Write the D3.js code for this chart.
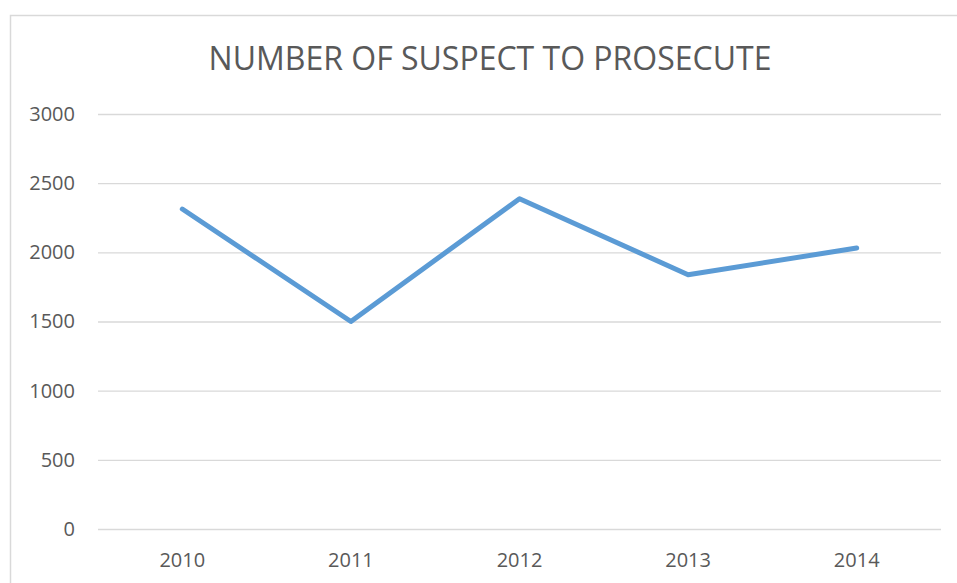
<!DOCTYPE html>
<html>
<head>
<meta charset="utf-8">
<script src="https://cdn.jsdelivr.net/npm/d3@7"></script>
<style>
  body { margin: 0; background: #fff; }
  text { font-family: "Open Sans", "Liberation Sans", sans-serif; fill: #595959; }
</style>
</head>
<body>
<div id="chart"></div>
<script>
// Data
var years = ["2010", "2011", "2012", "2013", "2014"];
var suspects = [2313, 1500, 2388, 1838, 2031];
var yTicks = [0, 500, 1000, 1500, 2000, 2500, 3000];
var title = "NUMBER OF SUSPECT TO PROSECUTE";

// Layout
var width = 957;
var height = 583;
var margin = {left: 98, top: 114, bottom: 54, right: 16};
var lineColor = "#5b9bd5";
var gridColor = "#d9d9d9";

var svg = d3.select("#chart")
            .append("svg")
            .attr("width", width)
            .attr("height", height);

// Chart frame (runs off the right and bottom edges)
svg.append("rect")
   .attr("x", 10.5).attr("y", 15.5)
   .attr("width", 960).attr("height", 600)
   .attr("fill", "#fff")
   .attr("stroke", gridColor)
   .attr("stroke-width", 1.5);

var xScale = d3.scaleBand()
               .domain(years)
               .range([margin.left, width - margin.right]);

var yScale = d3.scaleLinear()
               .domain([0, 3000])
               .range([height - margin.bottom, margin.top]);

// Gridlines + y labels
var yAxis = d3.axisLeft(yScale)
              .tickValues(yTicks)
              .tickFormat(d3.format("d"))
              .tickSize(-(width - margin.right - margin.left))
              .tickPadding(23);

var gy = svg.append("g")
   .attr("transform", "translate(" + margin.left + ",0)")
   .call(yAxis);
gy.select(".domain").remove();
gy.selectAll("line").attr("stroke", gridColor).attr("stroke-width", 1.3);
gy.selectAll("text").attr("font-size", 20).style("fill", "#595959");

// x labels
var xAxis = d3.axisBottom(xScale).tickSize(0);
var gx = svg.append("g")
   .attr("transform", "translate(0," + (height - margin.bottom) + ")")
   .call(xAxis);
gx.select(".domain").remove();
gx.selectAll("text")
  .attr("font-size", 20)
  .attr("y", 38)
  .attr("dy", 0)
  .style("fill", "#595959");

// Line
svg.append("path")
   .datum(suspects)
   .attr("d", d3.line()
                .x((d, i) => xScale(years[i]) + xScale.bandwidth() / 2)
                .y((d) => yScale(d)))
   .attr("fill", "none")
   .attr("stroke", lineColor)
   .attr("stroke-width", 5)
   .attr("stroke-linecap", "round")
   .attr("stroke-linejoin", "round");

// Title
svg.append("text")
   .attr("x", 490)
   .attr("y", 70)
   .attr("text-anchor", "middle")
   .attr("font-size", 32)
   .text(title);
</script>
</body>
</html>
